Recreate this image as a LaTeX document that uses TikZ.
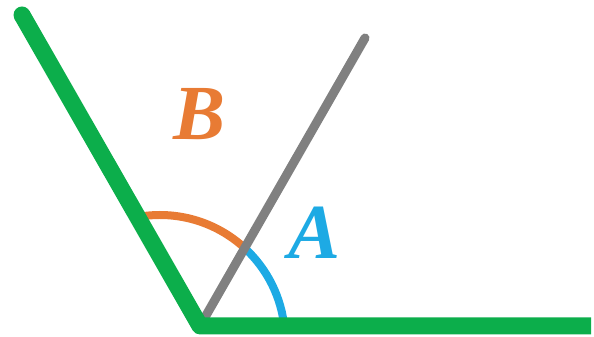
\documentclass[tikz,border=0pt]{standalone}
\usepackage{fontspec}
\setmainfont{Liberation Serif}
\definecolor{legGreen}{RGB}{12,174,75}
\definecolor{rayGray}{RGB}{128,128,128}
\definecolor{angOrange}{RGB}{232,123,52}
\definecolor{angBlue}{RGB}{29,170,228}

\begin{document}
\begin{tikzpicture}[
  x=1pt, y=1pt,
  leg/.style={draw=legGreen, line width=17pt, line join=round},
  ray/.style={draw=rayGray, line width=9pt, line cap=round},
  angarc/.style={line width=8pt},
  anglabel/.style={font=\fontsize{78}{78}\selectfont\bfseries\itshape, inner sep=0pt}
]

\useasboundingbox (0,0) rectangle (594,337);

\coordinate (vertex) at (200,11);
\coordinate (leftend) at (22,322);
\coordinate (rightend) at (591,11);
\coordinate (graytop) at (365,299);
\coordinate (arccentre) at (160,-3);

% angle arcs
\draw[angarc, angOrange] ([shift={(100:125)}]arccentre) arc[start angle=100, end angle=47.5, radius=125];
\draw[angarc, angBlue] ([shift={(47.5:125)}]arccentre) arc[start angle=47.5, end angle=5, radius=125];

% middle ray
\draw[ray] (vertex) -- (graytop);

% the two legs
\draw[leg] (rightend) -- (vertex) -- (leftend);
\fill[legGreen] (leftend) circle[radius=8.5pt];

\node[anglabel, text=angOrange] (labelB) at (200,223) {B};
\node[anglabel, text=angBlue] (labelA) at (315,104) {A};

\end{tikzpicture}
\end{document}
